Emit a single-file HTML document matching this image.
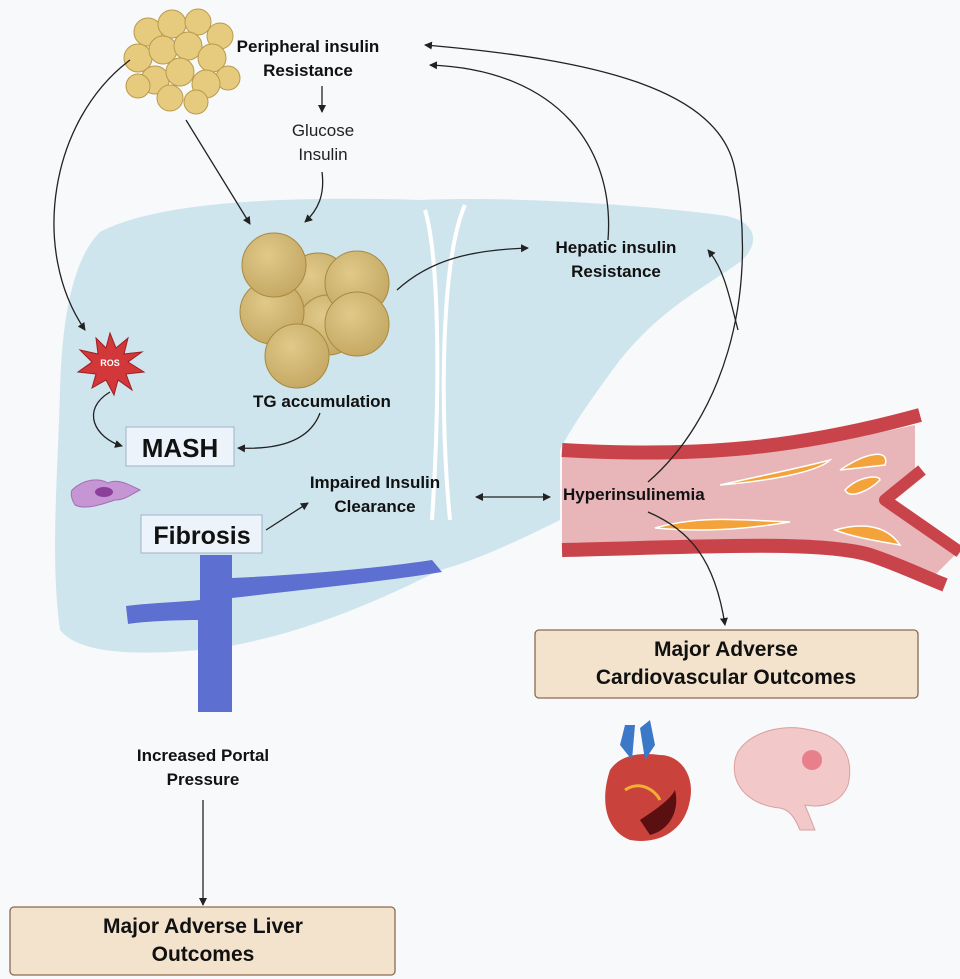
<!DOCTYPE html>
<html><head><meta charset="utf-8"><style>
html,body{margin:0;padding:0;background:#f8f9fb;}
svg{display:block;font-family:"Liberation Sans",sans-serif;}
.b{font-weight:bold;fill:#111;}
</style></head><body>
<svg width="960" height="979" viewBox="0 0 960 979">
<defs>
<marker id="a" markerWidth="8" markerHeight="8" refX="7" refY="4" orient="auto" markerUnits="userSpaceOnUse"><path d="M0,0 L8,4 L0,8 z" fill="#222"/></marker>
<marker id="s" markerWidth="8" markerHeight="8" refX="1" refY="4" orient="auto" markerUnits="userSpaceOnUse"><path d="M8,0 L0,4 L8,8 z" fill="#222"/></marker>
<radialGradient id="g" cx="0.4" cy="0.35" r="0.7"><stop offset="0" stop-color="#e0c98a"/><stop offset="1" stop-color="#c4a762"/></radialGradient>
</defs>
<rect width="960" height="979" fill="#f8f9fb"/>
<!-- liver -->
<path d="M100,232 C160,200 300,196 420,200 C520,196 640,205 720,215 C760,220 760,245 740,262 C700,290 660,310 620,360 C590,400 570,430 560,450 L560,520 C540,530 480,560 440,570 C400,590 300,640 200,650 C140,655 80,655 60,630 C50,560 58,470 60,390 C62,320 72,260 100,232 Z" fill="#cfe5ee"/>
<path d="M425,210 C440,260 440,400 432,520" stroke="#fff" stroke-width="4" fill="none"/>
<path d="M465,205 C440,260 440,420 450,520" stroke="#fff" stroke-width="4" fill="none"/>
<!-- vessel -->
<path d="M562,455 C700,462 800,450 915,425 L915,470 L885,500 L955,555 L935,575 C880,550 830,545 780,545 C700,548 620,548 562,548 Z" fill="#e8b5b8"/>
<path d="M562,450 C700,458 800,448 920,415" stroke="#c9434a" stroke-width="14" fill="none"/>
<path d="M562,550 C700,547 820,540 870,555 C900,565 920,575 945,585" stroke="#c9434a" stroke-width="14" fill="none"/>
<path d="M922,470 L885,500 L960,552" stroke="#c9434a" stroke-width="12" fill="none" stroke-linejoin="round"/>
<path d="M720,485 C780,480 820,470 830,460 C800,468 760,476 720,485 Z M655,528 C700,515 740,520 790,522 C740,530 700,532 655,528 Z M840,470 C870,450 890,450 885,465 Z M835,530 C870,520 890,530 900,545 C870,540 850,536 835,530 Z M845,490 C860,475 880,475 880,480 C870,490 850,500 845,490 Z" fill="#f3a33a" stroke="#fff" stroke-width="1.5"/>
<!-- portal vein -->
<path d="M200,555 L232,555 L232,578 C300,575 380,568 432,560 L442,572 C380,582 300,590 232,598 L232,712 L198,712 L198,620 C170,620 140,622 128,624 L126,606 C150,603 180,602 200,600 Z" fill="#5d6fd0"/>
<!-- fat cells top -->
<g stroke="#b99a4c" stroke-width="1" fill="#e6cb7e">
<circle cx="148" cy="32" r="14"/><circle cx="172" cy="24" r="14"/><circle cx="198" cy="22" r="13"/><circle cx="220" cy="36" r="13"/><circle cx="138" cy="58" r="14"/><circle cx="163" cy="50" r="14"/><circle cx="188" cy="46" r="14"/><circle cx="212" cy="58" r="14"/><circle cx="228" cy="78" r="12"/><circle cx="155" cy="80" r="14"/><circle cx="180" cy="72" r="14"/><circle cx="206" cy="84" r="14"/><circle cx="170" cy="98" r="13"/><circle cx="196" cy="102" r="12"/><circle cx="138" cy="86" r="12"/>
</g>
<!-- TG droplets -->
<g stroke="#a68a40" stroke-width="1" fill="url(#g)">
<circle cx="318" cy="285" r="32"/><circle cx="328" cy="325" r="30"/>
<circle cx="272" cy="312" r="32"/><circle cx="274" cy="265" r="32"/>
<circle cx="357" cy="283" r="32"/><circle cx="357" cy="324" r="32"/><circle cx="297" cy="356" r="32"/>
</g>
<!-- ROS -->
<polygon points="110,333 116,348 128,338 124,354 142,352 128,362 144,372 126,374 132,390 118,380 114,395 106,380 92,388 96,374 78,372 92,362 80,350 98,354 96,338 106,348" fill="#d2373a" stroke="#9c1f22"/>
<text x="110" y="366" font-size="9" fill="#fff" font-weight="bold" text-anchor="middle">ROS</text>
<!-- cell -->
<path d="M72,490 C85,478 100,478 108,483 C118,478 130,485 140,490 C130,495 125,500 115,500 C100,505 85,510 75,505 C72,500 70,495 72,490 Z" fill="#c596d3" stroke="#a26fb5"/>
<ellipse cx="104" cy="492" rx="9" ry="5" fill="#8c3f9a"/>
<!-- heart -->
<path d="M610,770 C600,800 605,830 630,840 C660,845 685,830 690,800 C695,775 680,755 660,755 C640,752 620,755 610,770 Z" fill="#c9423c"/>
<path d="M640,820 C655,810 670,800 675,790 C680,810 670,830 650,835 Z" fill="#5a1010"/>
<path d="M620,745 L625,725 L635,725 L632,760 Z M640,728 L650,720 L655,745 L645,760Z" fill="#3c78c8"/>
<path d="M625,790 C640,780 655,790 660,800" stroke="#f0b030" stroke-width="3" fill="none"/>
<!-- brain -->
<path d="M735,760 C740,735 780,722 810,730 C840,735 855,755 848,785 C840,805 820,808 805,805 L815,830 L800,830 C795,818 790,810 780,808 C755,806 730,790 735,760 Z" fill="#f2c8c8" stroke="#d9a0a0"/>
<circle cx="812" cy="760" r="10" fill="#e05060" opacity="0.6"/>
<!-- arrows -->
<g stroke="#222" stroke-width="1.3" fill="none">
<path d="M322,86 L322,112" marker-end="url(#a)"/>
<path d="M322,172 C325,195 318,210 305,222" marker-end="url(#a)"/>
<path d="M186,120 L250,224" marker-end="url(#a)"/>
<path d="M130,60 C50,120 30,250 85,330" marker-end="url(#a)"/>
<path d="M110,392 C80,410 95,438 122,446" marker-end="url(#a)"/>
<path d="M320,413 C310,440 280,450 238,448" marker-end="url(#a)"/>
<path d="M397,290 C430,260 470,250 528,248" marker-end="url(#a)"/>
<path d="M608,240 C615,150 560,70 430,65" marker-end="url(#a)"/>
<path d="M648,482 C720,420 760,300 735,170 C720,90 600,60 425,45" marker-end="url(#a)"/>
<path d="M738,330 C730,300 725,270 708,250" marker-end="url(#a)"/>
<path d="M266,530 L308,503" marker-end="url(#a)"/>
<path d="M476,497 L550,497" marker-start="url(#s)" marker-end="url(#a)"/>
<path d="M648,512 C690,530 715,560 725,625" marker-end="url(#a)"/>
<path d="M203,800 L203,905" marker-end="url(#a)"/>
</g>
<!-- boxes -->
<rect x="126" y="427" width="108" height="39" fill="#edf3fa" stroke="#9fb3c8"/>
<text x="180" y="457" class="b" font-size="26" text-anchor="middle">MASH</text>
<rect x="141" y="515" width="121" height="38" fill="#edf3fa" stroke="#9fb3c8"/>
<text x="202" y="544" class="b" font-size="25" text-anchor="middle">Fibrosis</text>
<rect x="535" y="630" width="383" height="68" rx="4" fill="#f3e2cc" stroke="#8a6a50" stroke-width="1.3"/>
<text x="726" y="656" class="b" font-size="21" text-anchor="middle">Major Adverse</text>
<text x="726" y="684" class="b" font-size="21" text-anchor="middle">Cardiovascular Outcomes</text>
<rect x="10" y="907" width="385" height="68" rx="4" fill="#f3e2cc" stroke="#8a6a50" stroke-width="1.3"/>
<text x="203" y="933" class="b" font-size="21" text-anchor="middle">Major Adverse Liver</text>
<text x="203" y="961" class="b" font-size="21" text-anchor="middle">Outcomes</text>
<!-- labels -->
<text x="308" y="52" class="b" font-size="17" text-anchor="middle">Peripheral insulin</text>
<text x="308" y="76" class="b" font-size="17" text-anchor="middle">Resistance</text>
<text x="323" y="136" font-size="17" fill="#222" text-anchor="middle">Glucose</text>
<text x="323" y="160" font-size="17" fill="#222" text-anchor="middle">Insulin</text>
<text x="616" y="253" class="b" font-size="17" text-anchor="middle">Hepatic insulin</text>
<text x="616" y="277" class="b" font-size="17" text-anchor="middle">Resistance</text>
<text x="322" y="407" class="b" font-size="17" text-anchor="middle">TG accumulation</text>
<text x="375" y="488" class="b" font-size="17" text-anchor="middle">Impaired Insulin</text>
<text x="375" y="512" class="b" font-size="17" text-anchor="middle">Clearance</text>
<text x="563" y="500" class="b" font-size="17">Hyperinsulinemia</text>
<text x="203" y="761" class="b" font-size="17" text-anchor="middle">Increased Portal</text>
<text x="203" y="785" class="b" font-size="17" text-anchor="middle">Pressure</text>
</svg>
</body></html>
